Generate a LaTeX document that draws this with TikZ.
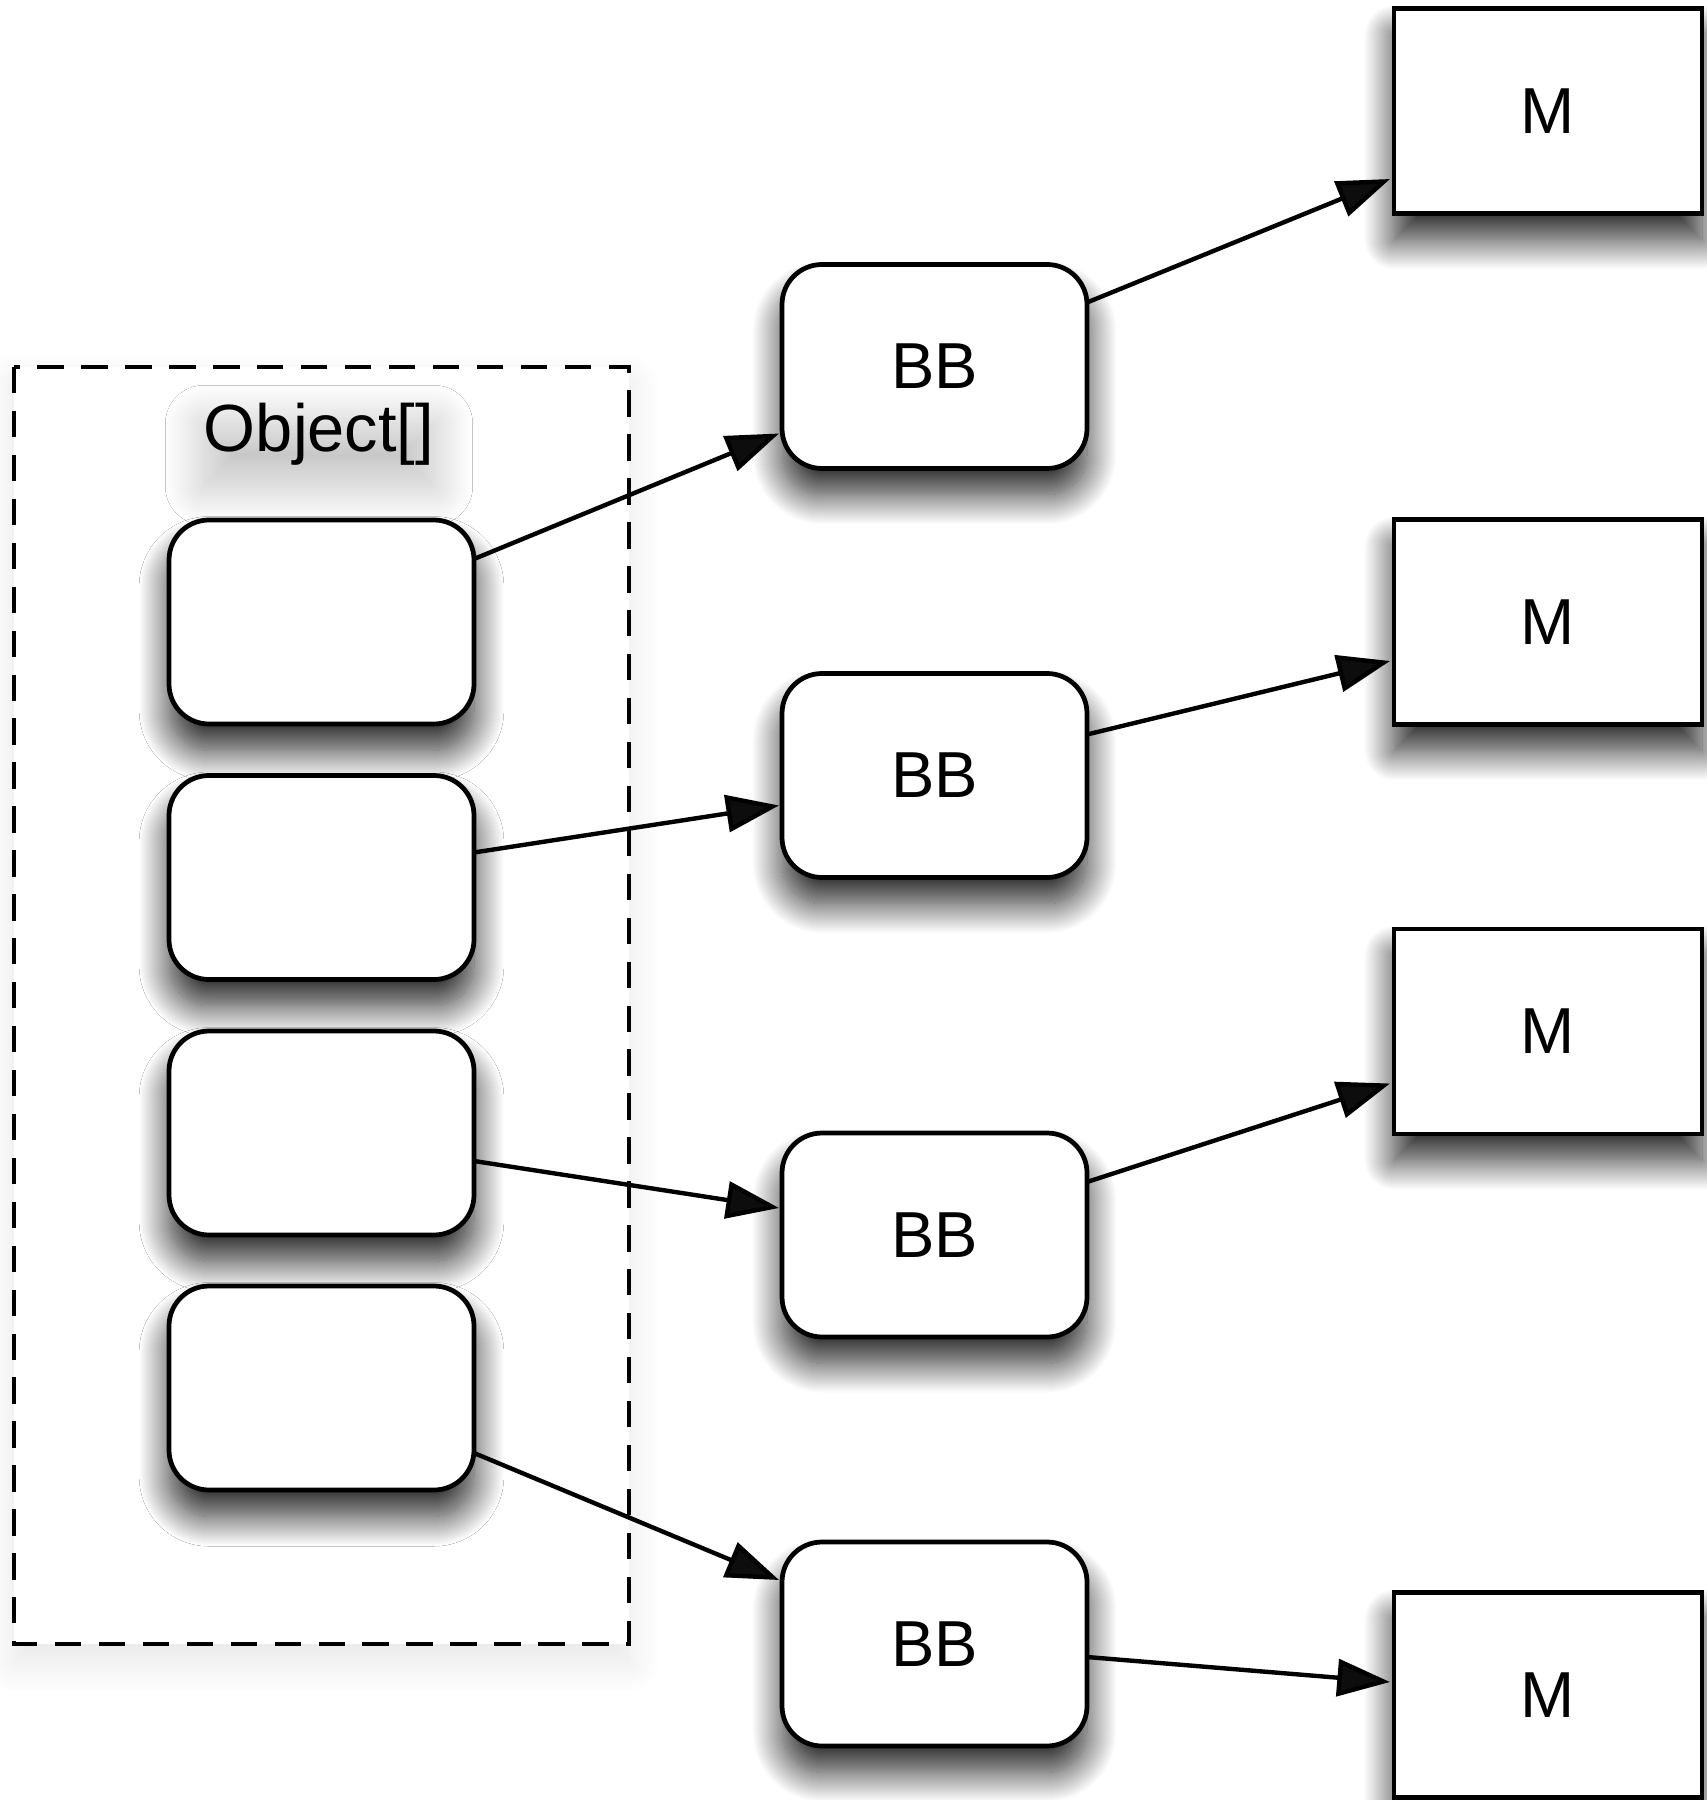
\documentclass[tikz,border=0pt]{standalone}
\usepackage{fontspec}
\setmainfont{Liberation Sans}
\usetikzlibrary{arrows.meta,calc,shadows.blur}

\tikzset{
  edgeline/.style={line width=1.35pt},
  boxshadow/.style={blur shadow={shadow xshift=0pt, shadow yshift=-7.5pt,
      shadow blur radius=8.5pt, shadow blur steps=30, shadow opacity=85}},
  slot/.style={draw, edgeline, fill=white, rounded corners=4mm,
      minimum width=30.5mm, minimum height=20.4mm, inner sep=0pt,
      outer sep=0pt, boxshadow},
  bbox/.style={slot, font=\fontsize{18.5}{22}\selectfont},
  mbox/.style={draw, edgeline, fill=white, minimum width=30.8mm,
      minimum height=20.5mm, inner sep=0pt, outer sep=0pt, boxshadow,
      font=\fontsize{18.5}{22}\selectfont},
  link/.style={line width=1.25pt, -{Triangle[length=15pt,width=10.5pt]}},
  arraybox/.style={draw, edgeline, dash pattern=on 7.5pt off 5pt,
      fill=white, blur shadow={shadow xshift=0pt, shadow yshift=-5pt,
      shadow blur radius=9pt, shadow blur steps=20, shadow opacity=10}},
}

\begin{document}
\begin{tikzpicture}[x=0.1mm, y=-0.1mm]
  \useasboundingbox (0,0) rectangle (1706,1800);

  % the array and its label
  \draw[arraybox] (14,367) rectangle (629,1644);
  \node[font=\fontsize{19}{23}\selectfont, inner sep=0pt,
        blur shadow={shadow xshift=0pt, shadow yshift=-6pt,
        shadow blur radius=11pt, shadow blur steps=30, shadow opacity=24}]
        (lbl) at (319,434) {Object[]};

  % array slots
  \node[slot] (L1) at (321.5,622) {};
  \node[slot] (L2) at (321.5,877.5) {};
  \node[slot] (L3) at (321.5,1133) {};
  \node[slot] (L4) at (321.5,1388) {};

  % referenced objects
  \node[bbox] (B1) at (934.5,366.5) {BB};
  \node[bbox] (B2) at (934.5,775.5) {BB};
  \node[bbox] (B3) at (934.5,1235) {BB};
  \node[bbox] (B4) at (934.5,1644) {BB};

  \node[mbox] (M1) at (1548,111) {M};
  \node[mbox] (M2) at (1548,622) {M};
  \node[mbox] (M3) at (1548,1031.5) {M};
  \node[mbox] (M4) at (1548,1695) {M};

  % references from slots to objects
  \draw[link] ($(L1.east)+(0,-63)$) -- ($(B1.west)+(-3,67)$);
  \draw[link] ($(L2.east)+(0,-25)$) -- ($(B2.west)+(-3,30)$);
  \draw[link] ($(L3.east)+(0,28)$)  -- ($(B3.west)+(-3,-27)$);
  \draw[link] ($(L4.east)+(0,65)$)  -- ($(B4.west)+(-3,-64)$);

  \draw[link] ($(B1.east)+(0,-64)$) -- ($(M1.west)+(-4,68)$);
  \draw[link] ($(B2.east)+(0,-41)$) -- ($(M2.west)+(-4,39)$);
  \draw[link] ($(B3.east)+(0,-53)$) -- ($(M3.west)+(-4,52)$);
  \draw[link] ($(B4.east)+(0,13)$)  -- ($(M4.west)+(-4,-13)$);
\end{tikzpicture}
\end{document}
